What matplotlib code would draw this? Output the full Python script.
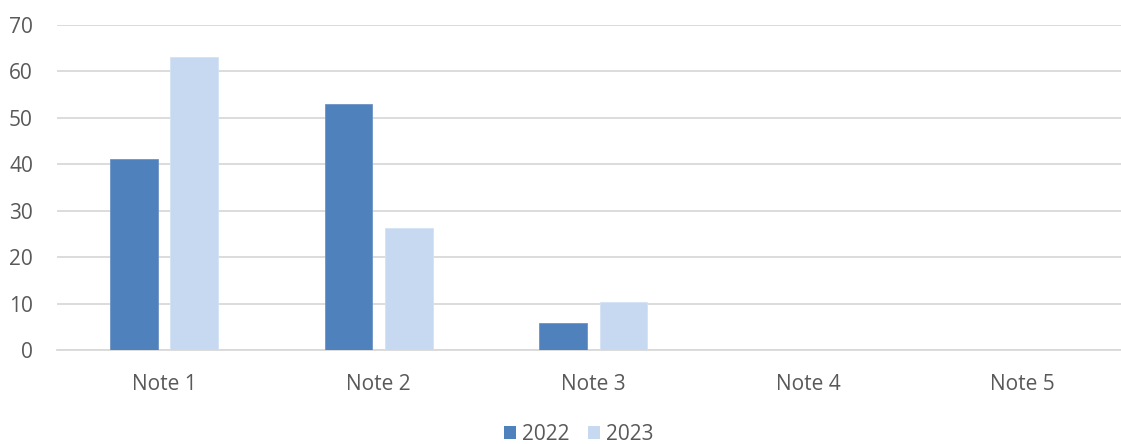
import numpy as np
import matplotlib.pyplot as plt
from matplotlib.patches import Patch

categories = ['Note 1', 'Note 2', 'Note 3', 'Note 4', 'Note 5']
vals_2022 = [41.1, 52.9, 5.8, 0, 0]
vals_2023 = [63.1, 26.3, 10.4, 0, 0]
series_names = ['2022', '2023']

c_2022 = '#4F81BD'
c_2023 = '#C6D9F1'
txt = '#595959'

plt.rcParams['font.family'] = ['Open Sans', 'DejaVu Sans']

fig = plt.figure(figsize=(11.21, 4.44), dpi=100)
# plot area runs a little past the right edge of the canvas
ax = fig.add_axes([0.0505, 0.211, 0.9576, 0.733])

x = np.arange(len(categories))
w = 0.222
gap = 0.06
ax.bar(x - (w + gap) / 2, vals_2022, w, color=c_2022, edgecolor='#6D94C6', linewidth=0.6, zorder=3)
ax.bar(x + (w + gap) / 2, vals_2023, w, color=c_2023, edgecolor='#D3E2F4', linewidth=0.6, zorder=3)

ax.set_xlim(-0.5, len(categories) - 0.5)
ax.set_ylim(0, 70)
ax.set_yticks(np.arange(0, 71, 10))
ax.grid(axis='y', color='#D9D9D9', linewidth=1.3, zorder=0)
for s in ['top', 'right', 'left']:
    ax.spines[s].set_visible(False)
ax.spines['bottom'].set_color('#D9D9D9')
ax.spines['bottom'].set_linewidth(1.3)

ax.set_xticks(x)
ax.set_xticklabels(categories)
ax.tick_params(axis='both', length=0, colors=txt, labelsize=15)
ax.tick_params(axis='x', pad=17)
ax.tick_params(axis='y', pad=17)

handles = [Patch(facecolor=c_2022, label=series_names[0]),
           Patch(facecolor=c_2023, label=series_names[1])]
fig.legend(handles=handles, loc='center', bbox_to_anchor=(0.516, 0.022), ncol=2, frameon=False,
           fontsize=15, labelcolor=txt, handlelength=0.6, handleheight=0.6,
           handletextpad=0.25, columnspacing=0.9)

fig.savefig('out.png', dpi=100)
